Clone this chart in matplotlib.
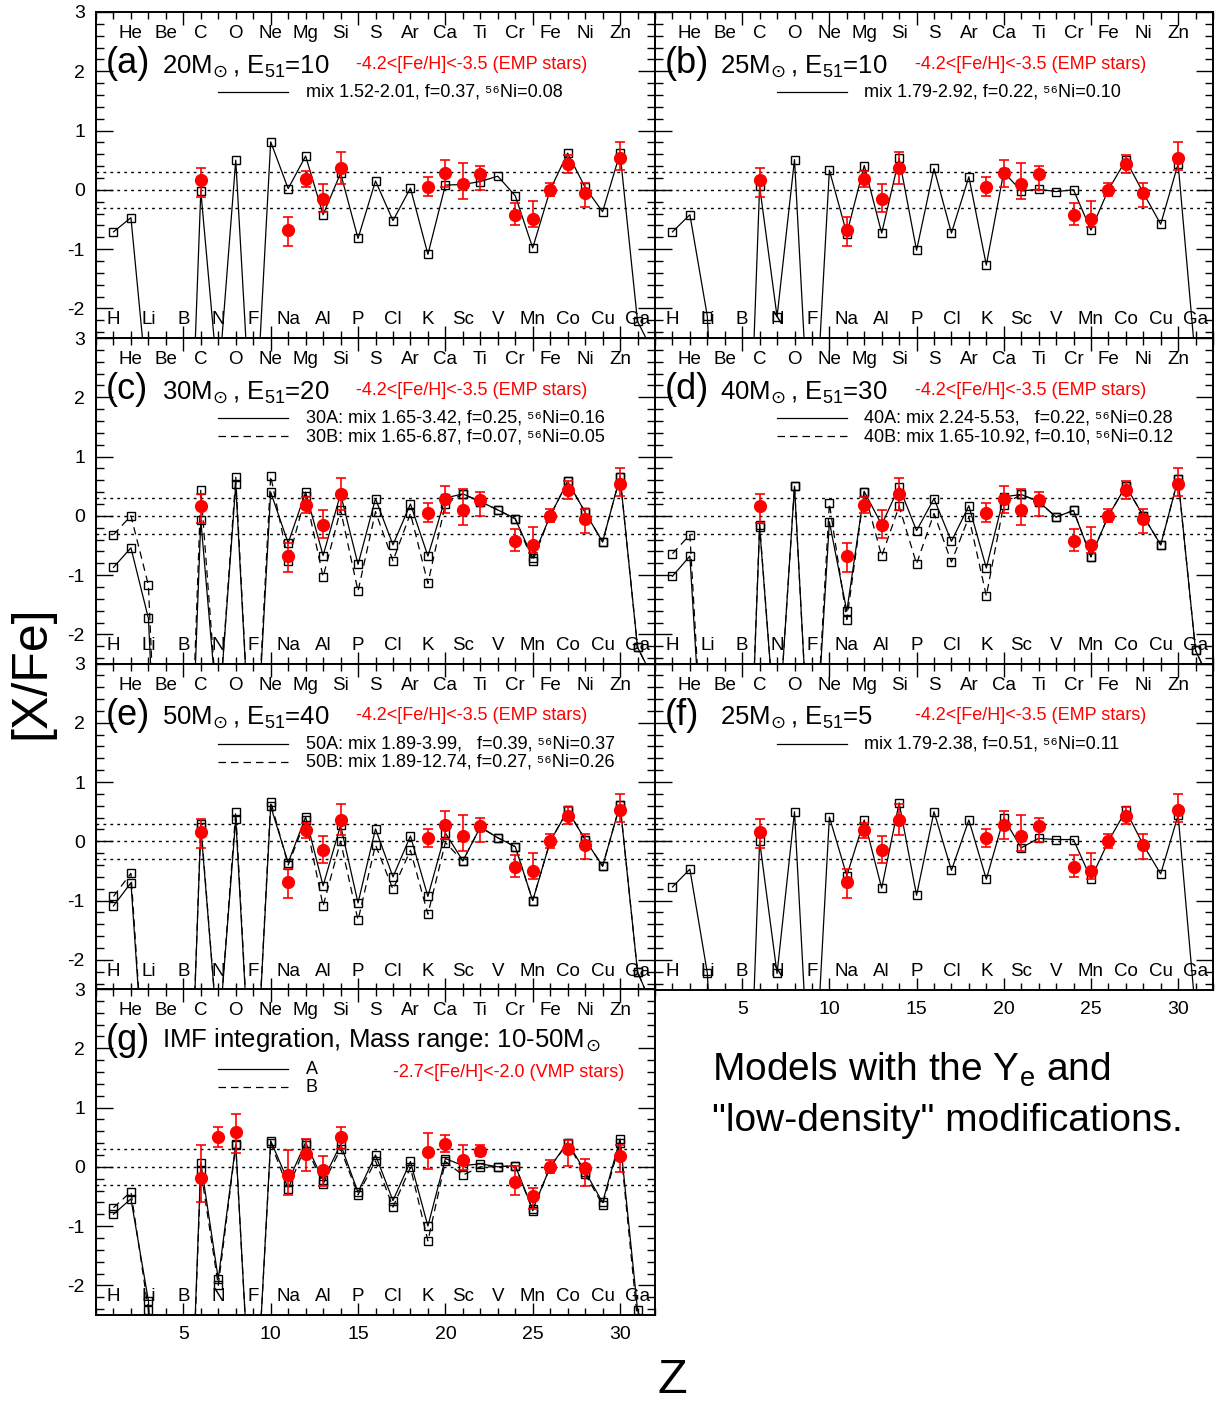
import numpy as np
import matplotlib
matplotlib.use("Agg")
import matplotlib.pyplot as plt
from matplotlib.ticker import MultipleLocator, FixedLocator

plt.rcParams['font.family'] = ['Liberation Sans', 'DejaVu Sans']
plt.rcParams['mathtext.fontset'] = 'dejavusans'

# ---------------------------------------------------------------- data
Z = np.arange(1, 33)          # H ... Ge
ELEMENTS = ["H", "He", "Li", "Be", "B", "C", "N", "O", "F", "Ne", "Na", "Mg",
            "Al", "Si", "P", "S", "Cl", "Ar", "K", "Ca", "Sc", "Ti", "V", "Cr",
            "Mn", "Fe", "Co", "Ni", "Cu", "Zn", "Ga"]
Z_TICKS = [5, 10, 15, 20, 25, 30]
Y_TICKS = [-2, -1, 0, 1, 2, 3]

# [X/Fe] of the models, Z = 1..32
m20_e10 = [-0.71, -0.47, -3.55, -8.0, -8.0, -0.02, -3.3, 0.50, -4.7, 0.81, 0.02, 0.57,
           -0.42, 0.28, -0.82, 0.15, -0.52, 0.03, -1.09, 0.08, 0.09, 0.14, 0.23, -0.10,
           -0.98, 0.00, 0.62, 0.04, -0.37, 0.62, -2.22, -2.8]
m25_e10 = [-0.71, -0.42, -2.13, -8.0, -8.0, 0.06, -2.14, 0.51, -5.0, 0.33, -0.74, 0.41,
           -0.73, 0.53, -1.02, 0.36, -0.73, 0.22, -1.27, 0.30, -0.02, 0.01, -0.03, 0.00,
           -0.68, 0.00, 0.50, -0.05, -0.58, 0.44, -2.9, -4.0]
m30A = [-0.87, -0.54, -1.73, -8.0, -8.0, -0.07, -3.5, 0.53, -5.0, 0.40, -0.46, 0.40,
        -0.67, 0.37, -0.82, 0.29, -0.49, 0.20, -0.68, 0.30, 0.37, 0.24, 0.10, -0.05,
        -0.71, 0.00, 0.58, 0.06, -0.44, 0.66, -2.22, -2.8]
m30B = [-0.32, 0.00, -1.17, -8.0, -8.0, 0.43, -3.5, 0.65, -5.0, 0.67, -0.76, 0.34,
        -1.03, 0.10, -1.27, 0.07, -0.76, 0.04, -1.14, 0.20, 0.37, 0.24, 0.10, -0.05,
        -0.76, 0.00, 0.58, 0.06, -0.44, 0.66, -2.22, -2.8]
m40A = [-1.02, -0.68, -5.5, -8.0, -8.0, -0.19, -4.0, 0.50, -5.0, -0.10, -1.61, 0.41,
        -0.15, 0.49, -0.25, 0.29, -0.43, 0.17, -0.88, 0.32, 0.36, 0.24, -0.02, 0.09,
        -0.69, 0.00, 0.50, 0.00, -0.49, 0.62, -2.27, -2.9]
m40B = [-0.64, -0.32, -5.5, -8.0, -8.0, -0.15, -4.0, 0.50, -5.0, 0.21, -1.75, 0.41,
        -0.68, 0.16, -0.81, 0.04, -0.78, -0.02, -1.35, 0.19, 0.36, 0.24, -0.02, 0.09,
        -0.69, 0.00, 0.50, 0.00, -0.49, 0.62, -2.27, -2.9]
m50A = [-1.09, -0.70, -5.0, -8.0, -8.0, 0.24, -3.4, 0.38, -5.0, 0.59, -0.36, 0.41,
        -0.75, 0.27, -1.04, 0.21, -0.60, 0.09, -0.93, 0.14, -0.33, 0.24, 0.06, -0.09,
        -1.00, 0.00, 0.52, 0.03, -0.42, 0.62, -2.20, -2.9]
m50B = [-0.93, -0.54, -5.0, -8.0, -8.0, 0.30, -3.4, 0.50, -5.0, 0.67, -0.40, 0.36,
        -1.09, 0.00, -1.33, -0.06, -0.81, -0.15, -1.23, -0.02, -0.33, 0.24, 0.06, -0.09,
        -1.00, 0.00, 0.52, 0.03, -0.42, 0.62, -2.20, -2.9]
m25_e5 = [-0.77, -0.47, -2.22, -8.0, -8.0, 0.00, -2.23, 0.50, -5.0, 0.41, -0.58, 0.36,
          -0.79, 0.65, -0.91, 0.50, -0.49, 0.36, -0.64, 0.39, -0.11, 0.05, 0.03, 0.03,
          -0.63, 0.00, 0.52, -0.06, -0.55, 0.44, -2.9, -4.0]
imfA = [-0.80, -0.54, -2.26, -8.0, -8.0, 0.07, -1.89, 0.38, -5.0, 0.44, -0.25, 0.41,
        -0.23, 0.38, -0.43, 0.20, -0.57, 0.09, -1.00, 0.14, 0.02, 0.05, 0.00, 0.02,
        -0.72, 0.00, 0.41, -0.08, -0.60, 0.47, -2.41, -3.5]
imfB = [-0.69, -0.42, -2.42, -8.0, -8.0, -0.06, -2.00, 0.36, -5.0, 0.41, -0.37, 0.36,
        -0.29, 0.30, -0.47, 0.10, -0.68, -0.01, -1.25, 0.09, -0.14, 0.00, 0.00, 0.02,
        -0.74, 0.00, 0.40, -0.12, -0.64, 0.41, -2.60, -3.5]

# observed abundances: EMP stars
emp_z = [6, 11, 12, 13, 14, 19, 20, 21, 22, 24, 25, 26, 27, 28, 30]
emp_val = [0.16, -0.68, 0.19, -0.15, 0.36, 0.05, 0.28, 0.09, 0.26, -0.43, -0.50,
           0.00, 0.43, -0.06, 0.53]
emp_top = [0.375, -0.46, 0.31, 0.09, 0.63, 0.21, 0.51, 0.45, 0.40, -0.23, -0.19,
           0.12, 0.58, 0.12, 0.80]
emp_bot = [-0.12, -0.95, 0.05, -0.37, 0.105, -0.10, 0.04, -0.16, -0.01, -0.60, -0.63,
           -0.11, 0.29, -0.29, 0.33]

# observed abundances: VMP stars
vmp_z = [6, 7, 8, 11, 12, 13, 14, 19, 20, 21, 22, 24, 25, 26, 27, 28, 30]
vmp_val = [-0.19, 0.51, 0.58, -0.14, 0.22, -0.05, 0.50, 0.25, 0.39, 0.12, 0.27,
           -0.25, -0.49, 0.00, 0.30, -0.02, 0.19]
vmp_top = [0.375, 0.68, 0.89, 0.29, 0.47, 0.19, 0.68, 0.57, 0.54, 0.37, 0.375,
           0.02, -0.36, 0.12, 0.46, 0.14, 0.37]
vmp_bot = [-0.60, 0.33, 0.23, -0.47, -0.07, -0.32, 0.30, -0.04, 0.25, -0.06, 0.19,
           -0.47, -0.71, -0.11, 0.02, -0.32, -0.09]

EMP_LABEL = "-4.2<[Fe/H]<-3.5 (EMP stars)"
VMP_LABEL = "-2.7<[Fe/H]<-2.0 (VMP stars)"
NI = "\u2075\u2076Ni"
SUN = r"$_{\!\odot}$"

panels = [
    dict(tag="(a)", title="20M" + SUN + r", E$_\mathregular{51}$=10", pos=(0, 0),
         models=[(m20_e10, "-")],
         legend=[("-", "mix 1.52-2.01, f=0.37, " + NI + "=0.08")], obs="emp"),
    dict(tag="(b)", title="25M" + SUN + r", E$_\mathregular{51}$=10", pos=(1, 0),
         models=[(m25_e10, "-")],
         legend=[("-", "mix 1.79-2.92, f=0.22, " + NI + "=0.10")], obs="emp"),
    dict(tag="(c)", title="30M" + SUN + r", E$_\mathregular{51}$=20", pos=(0, 1),
         models=[(m30A, "-"), (m30B, "--")],
         legend=[("-", "30A: mix 1.65-3.42, f=0.25, " + NI + "=0.16"),
                 ("--", "30B: mix 1.65-6.87, f=0.07, " + NI + "=0.05")], obs="emp"),
    dict(tag="(d)", title="40M" + SUN + r", E$_\mathregular{51}$=30", pos=(1, 1),
         models=[(m40A, "-"), (m40B, "--")],
         legend=[("-", "40A: mix 2.24-5.53,   f=0.22, " + NI + "=0.28"),
                 ("--", "40B: mix 1.65-10.92, f=0.10, " + NI + "=0.12")], obs="emp"),
    dict(tag="(e)", title="50M" + SUN + r", E$_\mathregular{51}$=40", pos=(0, 2),
         models=[(m50A, "-"), (m50B, "--")],
         legend=[("-", "50A: mix 1.89-3.99,   f=0.39, " + NI + "=0.37"),
                 ("--", "50B: mix 1.89-12.74, f=0.27, " + NI + "=0.26")], obs="emp"),
    dict(tag="(f)", title="25M" + SUN + r", E$_\mathregular{51}$=5", pos=(1, 2),
         models=[(m25_e5, "-")],
         legend=[("-", "mix 1.79-2.38, f=0.51, " + NI + "=0.11")], obs="emp"),
    dict(tag="(g)", title="IMF integration, Mass range: 10-50M" + SUN, pos=(0, 3),
         models=[(imfA, "-"), (imfB, "--")],
         legend=[("-", "A"), ("--", "B")], obs="vmp"),
]

# ---------------------------------------------------------------- layout
W, H = 1216, 1403
fig = plt.figure(figsize=(W / 100, H / 100), dpi=100)
col_left = [96, 655]
col_width = [559, 558]
row_top = [12, 338, 663.5, 989]
row_h = 326
XMIN, XMAX, YMIN, YMAX = 0, 32, -2.5, 3.0
DASH = (0, (6, 4))


def ax_frac_y(v):
    return (v - YMIN) / (YMAX - YMIN)


for p in panels:
    c, r = p["pos"]
    ax = fig.add_axes([col_left[c] / W, 1 - (row_top[r] + row_h) / H,
                       col_width[c] / W, row_h / H])
    ax.set_xlim(XMIN, XMAX)
    ax.set_ylim(YMIN, YMAX)

    for yl in (0.3, 0.0, -0.3):
        ax.axhline(yl, color="k", lw=1.0, ls=(0, (2, 3)), zorder=1)

    for vals, ls in p["models"]:
        ax.plot(Z, vals, color="k", lw=0.9, ls="-" if ls == "-" else DASH,
                marker="s", ms=5.5, mfc="none", mec="k", mew=1.0, zorder=3)

    if p["obs"] == "emp":
        oz, ov, ot, ob = emp_z, emp_val, emp_top, emp_bot
        olabel, ox, oy = EMP_LABEL, 14.9, 2.04
    else:
        oz, ov, ot, ob = vmp_z, vmp_val, vmp_top, vmp_bot
        olabel, ox, oy = VMP_LABEL, 17.0, 1.51
    ov = np.array(ov)
    yerr = [ov - np.array(ob), np.array(ot) - ov]
    ax.errorbar(oz, ov, yerr=yerr, fmt="o", color="red", ms=8.5, elinewidth=1.2,
                capsize=3.5, capthick=1.2, zorder=5)

    # element names: even Z along the top, odd Z along the bottom
    for i, name in enumerate(ELEMENTS):
        zz = i + 1
        yy = 2.63 if zz % 2 == 0 else -2.19
        ax.text(zz, yy, name, fontsize=13.5, ha="center", va="center", zorder=6)

    # panel tag, title and observation label
    ax.text(0.55 / 32, ax_frac_y(1.97), p["tag"], transform=ax.transAxes,
            fontsize=26, ha="left", va="baseline")
    ty = 2.02 if p["tag"] == "(g)" else 1.97
    ax.text(3.75 / 32, ax_frac_y(ty), p["title"], transform=ax.transAxes,
            fontsize=18.5, ha="left", va="baseline")
    ax.text(ox / 32, ax_frac_y(oy), olabel, transform=ax.transAxes,
            fontsize=13, color="red", ha="left", va="baseline")

    # model key
    for k, (ls, txt) in enumerate(p["legend"]):
        ly = 1.65 - 0.31 * k
        ax.plot([7.0 / 32, 11.0 / 32], [ax_frac_y(ly)] * 2, transform=ax.transAxes,
                color="k", lw=0.9, ls="-" if ls == "-" else DASH)
        ax.text(12.0 / 32, ax_frac_y(ly - 0.08), txt, transform=ax.transAxes,
                fontsize=13, ha="left", va="baseline")

    # ticks
    ax.xaxis.set_major_locator(FixedLocator(Z_TICKS))
    ax.xaxis.set_minor_locator(MultipleLocator(1))
    ax.yaxis.set_major_locator(FixedLocator(Y_TICKS))
    ax.yaxis.set_minor_locator(MultipleLocator(0.2))
    ax.tick_params(which="both", direction="in", top=True, right=True,
                   labelsize=14, width=1.0)
    ax.tick_params(axis="x", which="major", length=9, pad=8)
    ax.tick_params(axis="x", which="minor", length=5)
    ax.tick_params(axis="y", which="major", length=12, pad=8)
    ax.tick_params(axis="y", which="minor", length=6)
    ax.set_yticklabels([str(t) for t in Y_TICKS])
    if c == 1:
        ax.tick_params(axis="y", labelleft=False)
    if p["tag"] not in ("(f)", "(g)"):
        ax.tick_params(axis="x", labelbottom=False)
    for s in ax.spines.values():
        s.set_linewidth(1.4)

fig.text(0.026, 0.521, "[X/Fe]", rotation=90, fontsize=36, ha="center", va="center")
fig.text(672 / W, 1 - 1393 / H, "Z", fontsize=35, ha="center", va="baseline")
fig.text(712 / W, 1 - 1081 / H, r"Models with the Y$_\mathregular{e}$ and",
         fontsize=28, ha="left", va="baseline")
fig.text(712 / W, 1 - 1131 / H, "\"low-density\" modifications.",
         fontsize=28, ha="left", va="baseline")

fig.savefig("out.png", dpi=100)
